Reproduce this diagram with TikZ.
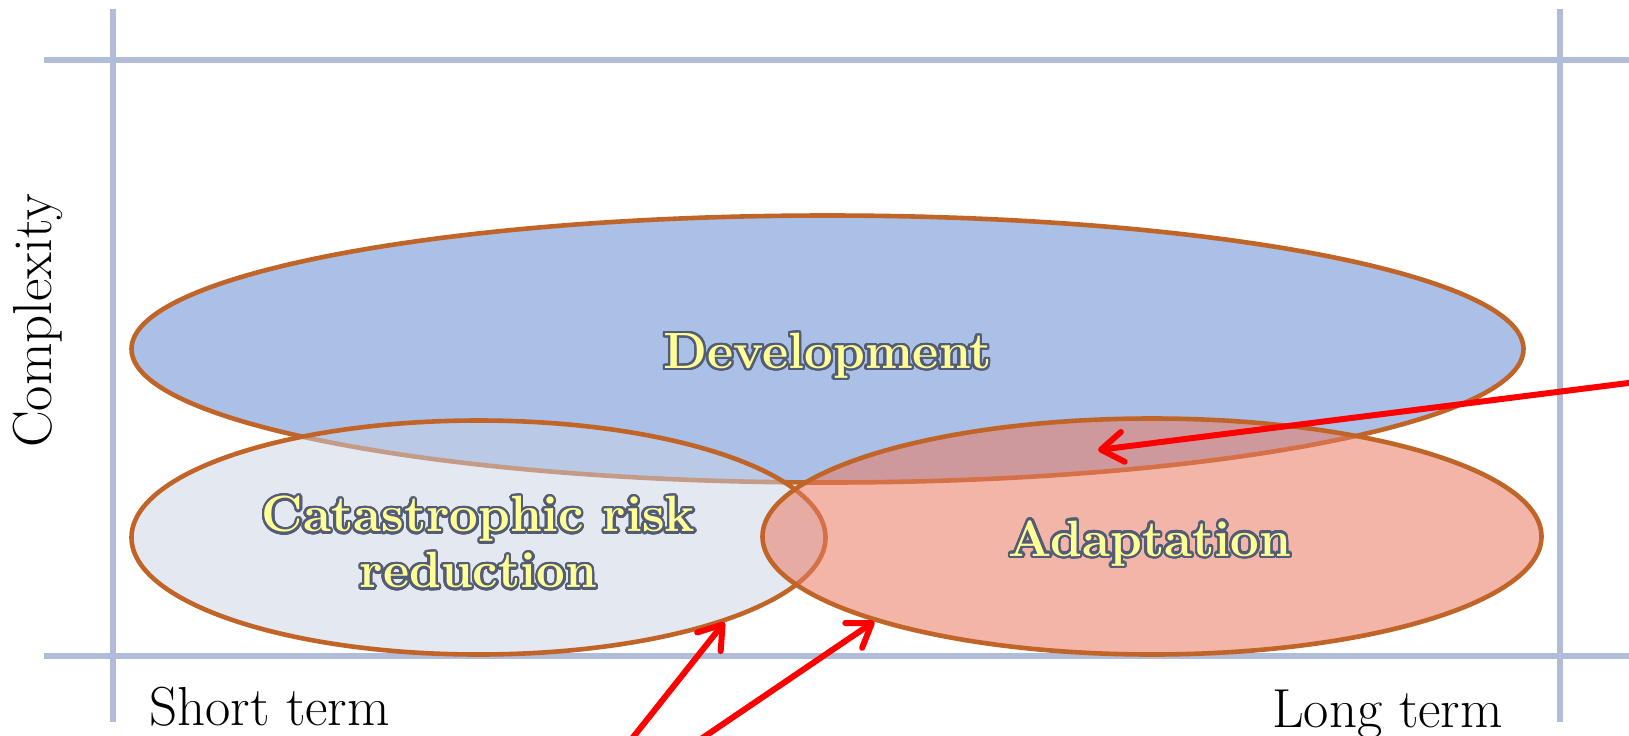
\documentclass[tikz,border=0pt]{standalone}
\usepackage{fontspec}
\usepackage[copies]{contour}
\usetikzlibrary{shapes.geometric,arrows.meta}
\definecolor{gridblue}{RGB}{176,188,216}
\definecolor{devblue}{RGB}{171,192,230}
\definecolor{catfill}{RGB}{201,211,229}
\definecolor{adaptfill}{RGB}{233,122,98}
\definecolor{edgebrown}{RGB}{192,100,40}
\definecolor{lblyellow}{RGB}{255,255,150}
\definecolor{lbldark}{RGB}{82,92,118}
\definecolor{arrowred}{RGB}{255,0,0}
\contourlength{1.2pt}
\contournumber{32}
\begin{document}
\begin{tikzpicture}[x=0.5pt,y=-0.5pt,
  gridline/.style={draw=gridblue,line width=3pt},
  ell/.style={ellipse,draw=edgebrown,line width=2.3pt,inner sep=0pt},
  lbl/.style={font=\fontsize{25.5}{28}\selectfont\bfseries,align=center,text=lblyellow,inner sep=0pt},
  axislbl/.style={font=\fontsize{27.5}{32}\selectfont,text=black,inner sep=0pt},
  redarrow/.style={draw=arrowred,line width=3pt,line cap=round,-{Straight Barb[length=11pt,width=15pt,round]}}]
\useasboundingbox (0,0) rectangle (1629,735);
\fill[white] (0,0) rectangle (1629,735);
% grid
\draw[gridline] (44,60) -- (1629,60);
\draw[gridline] (44,656) -- (1629,656);
\draw[gridline] (113,9) -- (113,722);
\draw[gridline] (1560,9) -- (1560,722);
% ellipses
\node[ell,fill=devblue,minimum width=696pt,minimum height=133.5pt] (dev) at (827.5,349) {};
\node[ell,fill=catfill,fill opacity=0.5,minimum width=347pt,minimum height=117pt] (cat) at (478.5,537.5) {};
\node[ell,fill=adaptfill,fill opacity=0.55,minimum width=389.5pt,minimum height=118pt] (adapt) at (1152,536.5) {};
% labels
\node[lbl] (devlbl) at ([yshift=-4pt]dev.center) {\contour{lbldark}{Development}};
\node[lbl] (catlbl) at ([yshift=-3pt]cat.center) {\contour{lbldark}{Catastrophic risk}\\\contour{lbldark}{reduction}};
\node[lbl] (adaptlbl) at ([xshift=-1pt,yshift=-4pt]adapt.center) {\contour{lbldark}{Adaptation}};
\node[axislbl,anchor=base] (short) at (269.5,725) {Short term};
\node[axislbl,anchor=base] (long) at (1387.5,727) {Long term};
\node[axislbl,anchor=base,rotate=90] (cplx) at (51,321) {Complexity};
% arrows
\coordinate (t1) at (615,760);
\coordinate (t2) at (670,760);
\coordinate (t3) at (1660,379);
\coordinate (h3) at (1098,450);
\draw[redarrow] (t1) -- (cat.-19.3);
\draw[redarrow] (t2) -- (adapt.-163);
\draw[redarrow] (t3) -- (h3);
\end{tikzpicture}
\end{document}
